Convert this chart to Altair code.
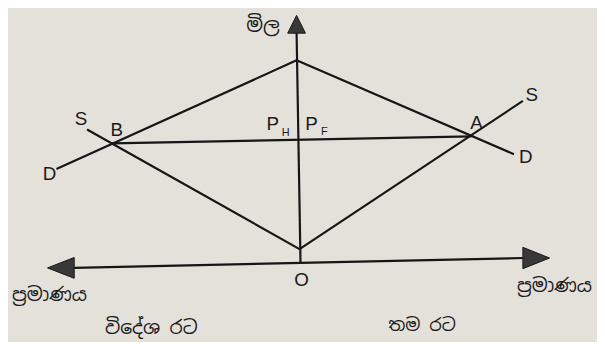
import altair as alt
import pandas as pd

# Diagram coordinates (origin O at the axes crossing)
seg_names = ["price_axis", "qty_axis", "D_foreign_home", "D_home", "S_foreign", "S_home", "world_price"]
seg_x1 = [0, -225, 0, 0, 3, 3, -187]
seg_y1 = [234, -5, 205, 205, 14, 14, 121]
seg_x2 = [4, 229, -243, 220, -212, 229, 177]
seg_y2 = [0, 5, 95, 110, 135, 164, 128]

arrow_x = [0, -238.5, 242.5]
arrow_y = [241.5, -5, 5]
arrow_shapes = ["M0,-1L1,1L-1,1Z", "M-1,0L1,-0.78L1,0.78Z", "M1,0L-1,-0.8L-1,0.8Z"]
arrow_sizes = [324, 729, 729]

lab_text = ["S", "B", "D", "S", "A", "D", "P", "P", "O"]
lab_x = [-218, -182, -250, 238, 182, 232, -24, 15, 5]
lab_y = [146, 134, 90, 170, 142, 107, 141, 141, -17]

sub_text = ["H", "F"]
sub_x = [-11, 28]
sub_y = [131, 132]

si_text = ["මිල", "ප්‍රමාණය", "ප්‍රමාණය", "විදේශ රට", "තම රට"]
si_x = [-34, -250, 261, -147, 127]
si_y = [240, -33, -23, -66, -64]
si_size = [20, 19, 19, 19, 18]

segs = pd.DataFrame({"name": seg_names, "x1": seg_x1, "y1": seg_y1, "x2": seg_x2, "y2": seg_y2})
arrows = pd.DataFrame({"x": arrow_x, "y": arrow_y, "shape": arrow_shapes, "size": arrow_sizes})
labels = pd.DataFrame({"t": lab_text, "x": lab_x, "y": lab_y})
subs = pd.DataFrame({"t": sub_text, "x": sub_x, "y": sub_y})
si = pd.DataFrame({"t": si_text, "x": si_x, "y": si_y, "s": si_size})

xs = alt.Scale(domain=[-292, 304], nice=False, zero=False)
ys = alt.Scale(domain=[-78, 256], nice=False, zero=False)

def X(f="x"):
    return alt.X(f"{f}:Q", scale=xs, axis=None)

def Y(f="y"):
    return alt.Y(f"{f}:Q", scale=ys, axis=None)

lines = alt.Chart(segs).mark_rule(color="#161616", strokeWidth=2.2).encode(
    x=X("x1"), y=Y("y1"), x2="x2:Q", y2="y2:Q"
)

heads = alt.Chart(arrows).mark_point(filled=True, fill="#383838", stroke="#161616",
                                      strokeWidth=1, opacity=1).encode(
    x=X(), y=Y(),
    shape=alt.Shape("shape:N", scale=None, legend=None),
    size=alt.Size("size:Q", scale=None, legend=None),
)

text = alt.Chart(labels).mark_text(font="Liberation Sans", fontSize=19, color="#1a1a1a").encode(
    x=X(), y=Y(), text="t:N"
)

subtext = alt.Chart(subs).mark_text(font="Liberation Sans", fontSize=11, color="#1a1a1a").encode(
    x=X(), y=Y(), text="t:N"
)

sitext = alt.Chart(si).mark_text(font="Noto Sans Sinhala", color="#1a1a1a").encode(
    x=X(), y=Y(), text="t:N",
    size=alt.Size("s:Q", scale=None, legend=None),
)

chart = alt.layer(lines, heads, text, subtext, sitext).properties(
    width=596, height=334,
    autosize=alt.AutoSizeParams(type="none"),
    padding=0,
    background="#e4e0da",
).configure_view(stroke=None)

chart.save("out.html", embed_options={"renderer": "svg", "actions": False})
